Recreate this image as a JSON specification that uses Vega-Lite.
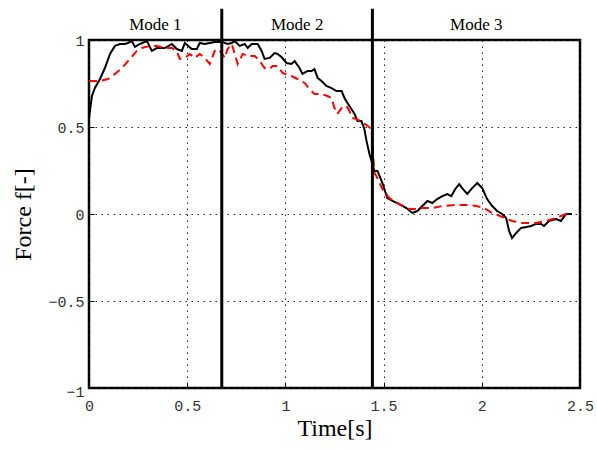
{
  "$schema": "https://vega.github.io/schema/vega-lite/v6.json",
  "width": 491,
  "height": 348,
  "autosize": "none",
  "padding": {"left": 89, "top": 40, "right": 17, "bottom": 62},
  "background": "white",
  "config": {
    "view": {"stroke": "black", "strokeWidth": 2.5},
    "axis": {
      "domain": false,
      "grid": true,
      "gridColor": "#222",
      "gridDash": [1.5, 4.5],
      "gridWidth": 1,
      "gridOpacity": 1,
      "ticks": true,
      "tickColor": "black",
      "tickSize": -5,
      "tickWidth": 1,
      "labelFont": "Liberation Mono",
      "labelFontSize": 15,
      "labelColor": "#333",
      "titleFont": "Liberation Serif",
      "titleFontSize": 24,
      "titleFontWeight": "normal",
      "titleColor": "black"
    }
  },
  "datasets": {
    "measured": [
      {"t": 0, "f": 0.552}, {"t": 0.015, "f": 0.678}, {"t": 0.030, "f": 0.724}, {"t": 0.056, "f": 0.776},
      {"t": 0.081, "f": 0.839}, {"t": 0.107, "f": 0.920}, {"t": 0.132, "f": 0.966}, {"t": 0.158, "f": 0.977},
      {"t": 0.183, "f": 0.977}, {"t": 0.198, "f": 0.983}, {"t": 0.218, "f": 0.994}, {"t": 0.234, "f": 0.960},
      {"t": 0.259, "f": 0.977}, {"t": 0.295, "f": 0.994}, {"t": 0.320, "f": 0.937}, {"t": 0.346, "f": 0.954},
      {"t": 0.386, "f": 0.954}, {"t": 0.422, "f": 0.977}, {"t": 0.447, "f": 0.948}, {"t": 0.473, "f": 0.937},
      {"t": 0.488, "f": 0.983}, {"t": 0.523, "f": 0.948}, {"t": 0.549, "f": 0.948}, {"t": 0.564, "f": 0.983},
      {"t": 0.589, "f": 0.977}, {"t": 0.615, "f": 0.983}, {"t": 0.640, "f": 0.989}, {"t": 0.676, "f": 0.989},
      {"t": 0.706, "f": 0.977}, {"t": 0.727, "f": 0.983}, {"t": 0.742, "f": 0.994}, {"t": 0.767, "f": 0.966},
      {"t": 0.793, "f": 0.977}, {"t": 0.808, "f": 0.954}, {"t": 0.828, "f": 0.977}, {"t": 0.859, "f": 0.977},
      {"t": 0.879, "f": 0.937}, {"t": 0.894, "f": 0.891}, {"t": 0.920, "f": 0.897}, {"t": 0.945, "f": 0.925},
      {"t": 0.960, "f": 0.920}, {"t": 0.980, "f": 0.902}, {"t": 1.006, "f": 0.868}, {"t": 1.031, "f": 0.862},
      {"t": 1.047, "f": 0.879}, {"t": 1.072, "f": 0.839}, {"t": 1.087, "f": 0.805}, {"t": 1.113, "f": 0.822},
      {"t": 1.133, "f": 0.822}, {"t": 1.148, "f": 0.833}, {"t": 1.164, "f": 0.782}, {"t": 1.184, "f": 0.764},
      {"t": 1.209, "f": 0.736}, {"t": 1.235, "f": 0.724}, {"t": 1.260, "f": 0.707}, {"t": 1.286, "f": 0.707},
      {"t": 1.301, "f": 0.667}, {"t": 1.316, "f": 0.638}, {"t": 1.336, "f": 0.603}, {"t": 1.352, "f": 0.575},
      {"t": 1.367, "f": 0.534}, {"t": 1.387, "f": 0.534}, {"t": 1.402, "f": 0.489}, {"t": 1.413, "f": 0.420},
      {"t": 1.428, "f": 0.345}, {"t": 1.443, "f": 0.287}, {"t": 1.453, "f": 0.247}, {"t": 1.469, "f": 0.247},
      {"t": 1.494, "f": 0.178}, {"t": 1.519, "f": 0.092}, {"t": 1.545, "f": 0.075}, {"t": 1.580, "f": 0.057},
      {"t": 1.616, "f": 0.034}, {"t": 1.646, "f": 0.006}, {"t": 1.672, "f": 0.017}, {"t": 1.697, "f": 0.046},
      {"t": 1.723, "f": 0.075}, {"t": 1.748, "f": 0.063}, {"t": 1.773, "f": 0.086}, {"t": 1.799, "f": 0.103},
      {"t": 1.824, "f": 0.115}, {"t": 1.845, "f": 0.103}, {"t": 1.865, "f": 0.144}, {"t": 1.885, "f": 0.172},
      {"t": 1.900, "f": 0.149}, {"t": 1.926, "f": 0.115}, {"t": 1.951, "f": 0.149}, {"t": 1.977, "f": 0.178},
      {"t": 2.002, "f": 0.149}, {"t": 2.027, "f": 0.086}, {"t": 2.053, "f": 0.046}, {"t": 2.078, "f": 0.017},
      {"t": 2.104, "f": 0.000}, {"t": 2.124, "f": -0.023}, {"t": 2.139, "f": -0.098}, {"t": 2.154, "f": -0.138},
      {"t": 2.175, "f": -0.109}, {"t": 2.200, "f": -0.080}, {"t": 2.226, "f": -0.075}, {"t": 2.251, "f": -0.069},
      {"t": 2.276, "f": -0.057}, {"t": 2.302, "f": -0.057}, {"t": 2.317, "f": -0.069}, {"t": 2.342, "f": -0.040},
      {"t": 2.378, "f": -0.029}, {"t": 2.403, "f": -0.040}, {"t": 2.429, "f": 0.000}, {"t": 2.459, "f": 0.000}
    ],
    "model": [
      {"t": 0, "f": 0.764}, {"t": 0.056, "f": 0.764}, {"t": 0.097, "f": 0.776}, {"t": 0.132, "f": 0.805},
      {"t": 0.168, "f": 0.839}, {"t": 0.208, "f": 0.891}, {"t": 0.244, "f": 0.937}, {"t": 0.269, "f": 0.954},
      {"t": 0.310, "f": 0.966}, {"t": 0.346, "f": 0.966}, {"t": 0.386, "f": 0.954}, {"t": 0.422, "f": 0.954},
      {"t": 0.447, "f": 0.937}, {"t": 0.462, "f": 0.891}, {"t": 0.488, "f": 0.897}, {"t": 0.513, "f": 0.920},
      {"t": 0.539, "f": 0.897}, {"t": 0.564, "f": 0.920}, {"t": 0.589, "f": 0.897}, {"t": 0.615, "f": 0.862},
      {"t": 0.640, "f": 0.937}, {"t": 0.655, "f": 0.948}, {"t": 0.676, "f": 0.925}, {"t": 0.691, "f": 0.897},
      {"t": 0.706, "f": 0.948}, {"t": 0.727, "f": 0.977}, {"t": 0.742, "f": 0.920}, {"t": 0.757, "f": 0.862},
      {"t": 0.783, "f": 0.920}, {"t": 0.808, "f": 0.908}, {"t": 0.844, "f": 0.908}, {"t": 0.869, "f": 0.879},
      {"t": 0.894, "f": 0.839}, {"t": 0.920, "f": 0.833}, {"t": 0.935, "f": 0.851}, {"t": 0.960, "f": 0.851},
      {"t": 0.986, "f": 0.810}, {"t": 1.031, "f": 0.793}, {"t": 1.062, "f": 0.776}, {"t": 1.098, "f": 0.753},
      {"t": 1.123, "f": 0.718}, {"t": 1.148, "f": 0.690}, {"t": 1.184, "f": 0.690}, {"t": 1.214, "f": 0.678},
      {"t": 1.235, "f": 0.667}, {"t": 1.250, "f": 0.609}, {"t": 1.265, "f": 0.575}, {"t": 1.286, "f": 0.609},
      {"t": 1.311, "f": 0.621}, {"t": 1.326, "f": 0.592}, {"t": 1.341, "f": 0.552}, {"t": 1.362, "f": 0.546},
      {"t": 1.387, "f": 0.529}, {"t": 1.413, "f": 0.511}, {"t": 1.438, "f": 0.489}, {"t": 1.453, "f": 0.236},
      {"t": 1.463, "f": 0.218}, {"t": 1.494, "f": 0.144}, {"t": 1.529, "f": 0.092}, {"t": 1.580, "f": 0.057},
      {"t": 1.631, "f": 0.029}, {"t": 1.667, "f": 0.029}, {"t": 1.697, "f": 0.034}, {"t": 1.748, "f": 0.034},
      {"t": 1.799, "f": 0.046}, {"t": 1.870, "f": 0.052}, {"t": 1.921, "f": 0.052}, {"t": 1.972, "f": 0.046},
      {"t": 2.012, "f": 0.034}, {"t": 2.053, "f": 0.006}, {"t": 2.104, "f": -0.017}, {"t": 2.154, "f": -0.040},
      {"t": 2.205, "f": -0.052}, {"t": 2.276, "f": -0.052}, {"t": 2.327, "f": -0.040}, {"t": 2.378, "f": -0.023},
      {"t": 2.429, "f": 0.000}, {"t": 2.454, "f": 0.006}
    ],
    "modes": [
      {"mode": "Mode 1", "start": 0, "end": 0.676, "mid": 0.338},
      {"mode": "Mode 2", "start": 0.676, "end": 1.443, "mid": 1.06},
      {"mode": "Mode 3", "start": 1.443, "end": 2.5, "mid": 1.972}
    ]
  },
  "encoding": {
    "x": {
      "type": "quantitative",
      "scale": {"domain": [0, 2.5], "nice": false, "zero": false},
      "axis": {
        "title": "Time[s]",
        "values": [0, 0.5, 1, 1.5, 2, 2.5],
        "format": "~g",
        "labelPadding": 15,
        "titlePadding": 3,
        "labelFlush": false
      }
    },
    "y": {
      "type": "quantitative",
      "scale": {"domain": [-1, 1], "nice": false, "zero": false},
      "axis": {
        "title": "Force f[-]",
        "values": [-1, -0.5, 0, 0.5, 1],
        "format": "~g",
        "labelPadding": 10,
        "titlePadding": 12,
        "labelOffset": {"condition": {"test": "datum.value == -1", "value": 3}, "value": 0}
      }
    }
  },
  "layer": [
    {
      "data": {"name": "measured"},
      "mark": {"type": "line", "color": "black", "strokeWidth": 2, "clip": true},
      "encoding": {"x": {"field": "t"}, "y": {"field": "f"}}
    },
    {
      "data": {"name": "model"},
      "mark": {"type": "line", "color": "#ff0000", "strokeWidth": 2, "strokeDash": [8, 5], "clip": true},
      "encoding": {"x": {"field": "t"}, "y": {"field": "f"}}
    },
    {
      "data": {"name": "modes"},
      "transform": [{"filter": "datum.start > 0"}],
      "mark": {"type": "rule", "color": "black", "strokeWidth": 3},
      "encoding": {"x": {"field": "start"}, "y": {"datum": -1}, "y2": {"datum": 1.18}}
    },
    {
      "data": {"name": "modes"},
      "mark": {"type": "text", "font": "Liberation Serif", "fontSize": 17, "color": "black", "baseline": "bottom", "dy": -6},
      "encoding": {"x": {"field": "mid"}, "y": {"datum": 1}, "text": {"field": "mode"}}
    }
  ]
}
